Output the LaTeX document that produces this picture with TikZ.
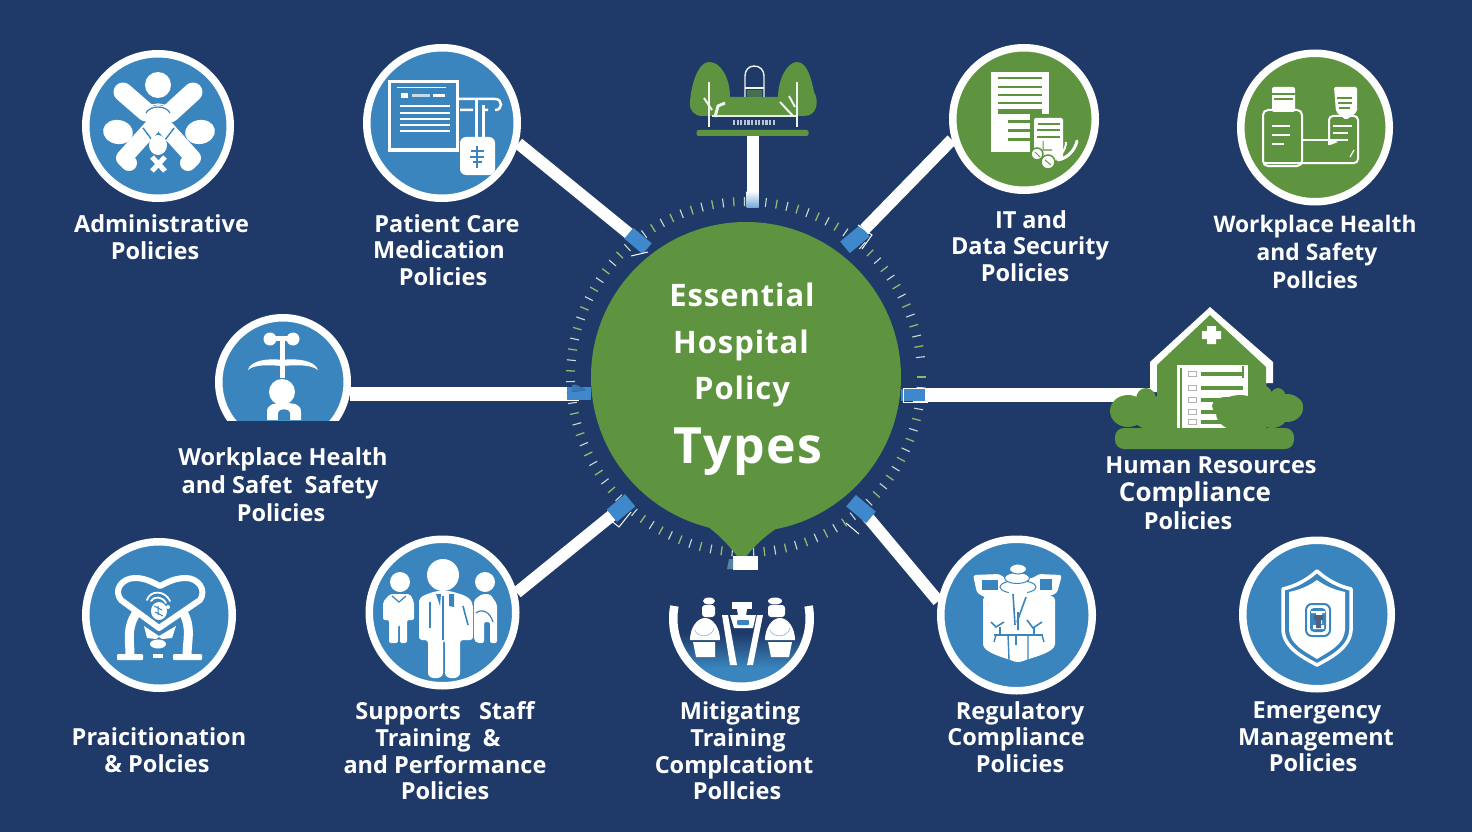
\documentclass[tikz,border=0pt]{standalone}
\usepackage{fontspec}
\setmainfont{Open Sans}
\newfontfamily\labf{Open Sans}
\newfontfamily\hubf{Open Sans}[LetterSpace=3]
\usetikzlibrary{backgrounds,shadings}
\definecolor{bgc}{HTML}{1F3A68}
\definecolor{bluec}{HTML}{3A85BD}
\definecolor{greenc}{HTML}{5E9440}
\definecolor{tabc}{HTML}{3F88CC}
\definecolor{tickg}{HTML}{8DBB6E}
\definecolor{tickw}{HTML}{C7DDD2}
\newcommand\shl[2]{#2\kern#1pt\relax}
\newcommand\shr[2]{\kern#1pt\relax#2}
\tikzset{
  disc/.style={circle,draw=white,line width=7.5pt,inner sep=0pt,minimum size=#1},
  bluedisc/.style={disc=#1,fill=bluec},
  greendisc/.style={disc=#1,fill=greenc},
  lab/.style={text=white,align=center,inner sep=0pt,font=\labf\bfseries\fontsize{23.5}{26.6}\selectfont},
  conn/.style={draw=white,line width=12pt},
  tabn/.style={rectangle,fill=tabc,inner sep=0pt},
  wl/.style={draw=white,line cap=round,line join=round},
  gl/.style={draw=greenc,line cap=butt},
  bl/.style={draw=bluec,line cap=round}
}
\begin{document}
\begin{tikzpicture}[x=1pt,y=-1pt]
\useasboundingbox (0,0) rectangle (1472,832);
\begin{scope}[on background layer]
\fill[bgc] (0,0) rectangle (1472,832);
\end{scope}

% tick ring
\foreach \a in {0,7,...,356}{\draw[tickg,line width=1.3pt] ({746+171*cos(\a)},{377+171*sin(\a)}) -- ({746+180*cos(\a)},{377+180*sin(\a)});}
\foreach \a in {3.5,10.5,...,356}{\draw[tickw,line width=1.1pt] ({746+171*cos(\a)},{377+171*sin(\a)}) -- ({746+180*cos(\a)},{377+180*sin(\a)});}

% hub
\fill[greenc] (698,520) .. controls (722,535) and (732,550) .. (742,562) .. controls (752,548) and (764,535) .. (790,520) -- cycle;
\node[circle,fill=greenc,minimum size=310pt,inner sep=0pt] (hub) at (746,377) {};
\node[text=white,align=center,inner sep=0pt,font=\hubf\bfseries\fontsize{31}{46.5}\selectfont] (hubtext) at (744,379)
 {\shl{4}{Essential}\\\shl{6}{Hospital}\\\shl{4}{Policy}\\[17pt]\shr{8}{\fontsize{50}{50}\selectfont Types}};

% discs
\node[bluedisc=144.5pt] (admin) at (158,126) {};
\node[bluedisc=150.5pt] (patient) at (442,123) {};
\node[greendisc=142.5pt] (itsec) at (1024,119) {};
\node[greendisc=148.5pt] (safety) at (1315,127.5) {};
\node[bluedisc=146.5pt] (pract) at (159,615) {};
\node[bluedisc=146.5pt] (staff) at (442.5,612.5) {};
\node[bluedisc=151.5pt] (regul) at (1016.5,615) {};
\node[bluedisc=148.5pt] (emerg) at (1317,614.5) {};
\begin{scope}
\clip (200,300) rectangle (370,420);
\node[bluedisc=128.5pt] (leftc) at (283,382) {};
\fill[white] (267,420) -- (267,412) .. controls (267,405) and (272,403) .. (284,403) .. controls (296,403) and (301,405) .. (301,412) -- (301,420) -- cycle;
\fill[bluec] (278,420) -- (278,413) .. controls (278,408) and (290,408) .. (290,413) -- (290,420) -- cycle;
\end{scope}

% tabs
\node[rectangle,inner sep=0pt,minimum width=12pt,minimum height=16pt,top color=white,bottom color=tabc!70] (tabT) at (752.5,199) {};
\node[tabn,minimum width=24pt,minimum height=14pt,rotate=-40] (tabUL) at (638,241) {};
\node[tabn,minimum width=26pt,minimum height=15pt,rotate=40] (tabUR) at (855,239) {};
\node[tabn,minimum width=24pt,minimum height=13pt] (tabL) at (579,393) {};
\node[tabn,minimum width=24pt,minimum height=12pt] (tabR) at (913,394.5) {};
\node[tabn,minimum width=24pt,minimum height=16pt,rotate=40] (tabLL) at (621,508) {};
\node[tabn,minimum width=26pt,minimum height=15pt,rotate=-40] (tabLR) at (861,509) {};
\node[rectangle,fill=white,minimum width=25pt,minimum height=14pt,inner sep=0pt] (tabB) at (745,563) {};
\fill[bluec!60!gray] (727,569) -- (729,559) -- (733,559) -- (733,569) -- cycle;
\draw[white,line width=1pt] (648,252) -- (631,256) (858,225) -- (872,235) -- (862,249) (604,515) -- (619,527) -- (631,512) (846,523) -- (859,534);
\draw[white,line width=1pt] (903,388) rectangle (927,402);
\draw[tabc!70!black,fill=tabc!80!bgc] (572,385) .. controls (576,384) and (580,386) .. (585,390) -- (572,392) -- cycle;

% top icon
\fill[greenc] (702,116) .. controls (694,116) and (689,110) .. (690,102) .. controls (691,85) and (698,62) .. (709,62) .. controls (721,62) and (730,78) .. (730,97) -- (778,97) .. controls (778,80) and (787,62) .. (797,62) .. controls (808,62) and (812,82) .. (814,92) .. controls (819,100) and (818,116) .. (804,116) -- cycle;
\draw[white!85!greenc,line width=1.1pt] (712,116) -- (797,116);
\draw[white!90!greenc,line width=1.4pt,fill=bgc] (745,97) -- (745,76) .. controls (745,70) and (749,66) .. (754,66) .. controls (760,66) and (764,70) .. (764,76) -- (764,97);
\draw[white!90!greenc,line width=1.4pt] (745,88) -- (764,88);
\fill[greenc!60!bgc] (747,90) rectangle (762,97);
\draw[white!90!greenc,line width=2pt] (709,82) -- (709,127) (797,82) -- (797,127);
\draw[white!90!greenc,line width=2pt] (704,98) -- (712,110) (789,96) -- (795,107) (780,102) -- (793,116);
\draw[white!90!greenc,line width=3pt] (725,103) -- (718,106) -- (715,117);
\foreach \xx in {733,736.6,...,776}{\fill[bgc!30!white] (\xx,120.5) rectangle +(2.2,4.5);}
\node[rectangle,fill=greenc,minimum width=112pt,minimum height=6pt,rounded corners=2pt,inner sep=0pt] (plat) at (752.5,133) {};

% house icon
\coordinate (houseL) at (1150,394.5);
\fill[white] (1150,392) -- (1150,362) -- (1210,307) -- (1273,362) -- (1273,383) -- (1266,383) -- (1266,392) -- cycle;
\fill[greenc] (1157,428) -- (1157,365) -- (1210,315) -- (1266,367) -- (1266,428) -- cycle;
\fill[white] (1207,326) rectangle (1216,344) (1202,331) rectangle (1221,339);
\fill[white] (1177,365) rectangle (1248,428);
\draw[greenc,line width=1.5pt] (1181,368) -- (1181,428) (1243,366) -- (1243,378);
\foreach \yy in {375,389,401,413,423}{\fill[greenc] (1201,\yy-3) rectangle (1243,\yy+1);\draw[gray!60,line width=.6pt] (1188,\yy-4) rectangle (1196,\yy+1);}
\fill[greenc] (1128,411) ellipse [x radius=18,y radius=16];
\fill[greenc] (1146,399) ellipse [x radius=10,y radius=11];
\fill[greenc] (1153,413) ellipse [x radius=22,y radius=17];
\fill[greenc] (1240,413) ellipse [x radius=24,y radius=18];
\fill[greenc] (1226,406) ellipse [x radius=14,y radius=9];
\fill[greenc] (1262,402) ellipse [x radius=12,y radius=17];
\fill[greenc] (1272,414) ellipse [x radius=16,y radius=14];
\fill[greenc] (1287,408) ellipse [x radius=16,y radius=14];
\fill[greenc] (1278,398) ellipse [x radius=8,y radius=10];
\fill[greenc] (1293,406) ellipse [x radius=10,y radius=9];
\fill[greenc,rounded corners=9pt] (1115,428) rectangle (1294,449);

% admin icon
\fill[white] (158,85) circle [radius=13];
\draw[wl,line width=19pt] (123,92) -- (146,112);
\draw[wl,line width=19pt] (193,92) -- (170,113);
\fill[white,rotate around={-10:(118,132)}] (118,132) ellipse [x radius=15,y radius=12];
\fill[white,rotate around={10:(200,132)}] (200,132) ellipse [x radius=15,y radius=12];
\draw[wl,line width=16pt] (152,127) -- (124,158) -- (129,163);
\draw[wl,line width=16pt] (165,127) -- (193,158) -- (188,163);
\draw[bluec,line width=1.4pt] (143,128) -- (152,140) (174,128) -- (165,140);
\fill[white] (158,118) circle [radius=13];
\draw[bluec,line width=1.2pt] (146,113) .. controls (150,105) and (166,105) .. (170,113);
\draw[white,line width=1.2pt] (142,116) .. controls (146,100) and (170,100) .. (174,116);
\fill[white] (158,145) ellipse [x radius=9,y radius=10];
\draw[white,line width=5pt] (152,157) -- (165,171) (165,157) -- (152,171);

% patient icon
\draw[white,line width=3pt] (389,82) rectangle (457,150);
\draw[white,line width=1pt] (397,88) -- (446,88);
\fill[white] (401,93) rectangle (408,98);
\fill[white!70!bluec] (412,94) rectangle (430,97);
\fill[white] (433,94) rectangle (445,97);
\foreach \yy in {106,113,119,125,131}{\draw[white,line width=2pt] (400,\yy) -- (450,\yy);}
\draw[white,line width=2.5pt] (458,99) -- (495,99) .. controls (503,99) and (503,110) .. (495,110) (460,110) -- (473,110) (482,110) -- (488,110);
\draw[white,line width=3pt] (476,100) -- (476,137) (483,105) -- (483,137);
\fill[white,rounded corners=6pt] (460,137) rectangle (495,175);
\draw[bluec,line width=1.8pt] (477,146) -- (477,168) (471,151) -- (484,151) (470,157) -- (484,157) (473,162) -- (482,162);

% IT icon
\fill[white] (991,72) rectangle (1049,152);
\foreach \yy in {78,87,95,103}{\draw[greenc,line width=2.5pt] (998,\yy) -- (1042,\yy);}
\draw[greenc,line width=5pt] (998,112) -- (1042,112);
\draw[greenc,line width=3pt] (1008,122) -- (1030,122) (1008,131) -- (1030,131) (1008,140) -- (1030,140);
\fill[greenc] (1030,114) rectangle (1068,166);
\fill[white,rounded corners=2pt] (1034,118) rectangle (1063,158);
\draw[greenc,line width=1.5pt] (1038,124) -- (1060,124) (1037,130) -- (1060,130) (1037,137) -- (1060,137);
\draw[white,line width=3pt,line cap=round] (1058,160) .. controls (1068,158) and (1075,150) .. (1077,141);
\draw[white,line width=2pt] (1066,142) .. controls (1066,150) and (1060,158) .. (1050,162);
\draw[greenc,line width=1.5pt,fill=white] (1037,154) circle [radius=6];
\draw[greenc,line width=1.5pt,fill=white] (1048,162) circle [radius=7];
\draw[greenc,line width=1pt] (1045,160) -- (1051,165) (1035,152) -- (1040,157) (1043,141) -- (1043,150) -- (1052,150);

% safety icon
\draw[white,line width=2pt,rounded corners=5pt] (1263,166) -- (1263,110) -- (1302,110) -- (1302,166) -- cycle;
\fill[white,rounded corners=2pt] (1272,87) rectangle (1295,112);
\draw[greenc,line width=2pt] (1272,94) -- (1295,94) (1274,99) -- (1293,99);
\draw[white,line width=2pt] (1272,126) -- (1290,126) (1272,135) -- (1290,135) (1272,144) -- (1284,144);
\draw[white,line width=2pt,rounded corners=4pt] (1329,145) -- (1329,116) -- (1358,116) -- (1358,163) -- (1263,163);
\fill[white,rounded corners=2pt] (1334,87) -- (1357,87) -- (1357,112) -- (1346,120) -- (1336,112) -- cycle;
\draw[greenc,line width=1.5pt] (1337,98) -- (1352,98) (1338,103) -- (1352,103) (1339,108) -- (1350,108);
\draw[white,line width=2pt] (1302,140) -- (1348,140) (1333,126) -- (1352,126) (1333,133) -- (1348,133);
\fill[white] (1328,138) -- (1330,145) -- (1338,142) -- cycle;
\draw[white,line width=1.2pt] (1350,157) -- (1354,150);

% left icon
\begin{scope}
\clip (200,300) rectangle (370,420);
\fill[white] (270,339) circle [radius=6.5] (293,339) circle [radius=6.5];
\draw[white,line width=5pt] (282,339) -- (282,378) (270,338) -- (293,338);
\fill[white] (248,370) .. controls (250,360) and (270,358) .. (282,360) .. controls (295,358) and (315,360) .. (318,370) .. controls (310,364) and (295,365) .. (282,366) .. controls (270,365) and (255,364) .. (248,370) -- cycle;
\fill[white] (282,392) ellipse [x radius=13,y radius=13];
\end{scope}

% practitioner icon
\draw[white,line width=9pt] (137,612) .. controls (126,628) and (130,640) .. (130,656);
\draw[white,line width=9pt] (183,612) .. controls (192,628) and (187,640) .. (187,656);
\fill[white,rounded corners=1pt] (117,654) rectangle (143,660) (173,654) rectangle (202,660);
\fill[white] (144,626) -- (159,636) -- (176,626) -- (172,638) -- (162,639) -- (159,637) -- (156,639) -- (147,638) -- cycle;
\draw[wl,line width=6pt,fill=bluec] (159,628) -- (121,600) .. controls (113,590) and (122,578) .. (135,578) .. controls (145,578) and (152,582) .. (160,586) .. controls (168,582) and (175,578) .. (186,578) .. controls (198,578) and (207,590) .. (200,600) -- cycle;
\fill[white] (158,644) ellipse [x radius=8,y radius=4.5];
\fill[white] (153,654) rectangle (163,658);
\fill[white] (159,611) ellipse [x radius=8,y radius=9];
\draw[bluec,line width=1pt] (154,606) -- (162,610) (158,606) -- (158,615) (155,612) -- (163,616);
\draw[white,line width=1.8pt,line cap=round] (147,600) .. controls (150,590) and (165,590) .. (170,601);
\draw[white,line width=1.8pt,line cap=round] (151,601) .. controls (154,596) and (162,596) .. (166,603);
\fill[white] (168,607) circle [radius=2];

% staff icon
\fill[white] (443,575) circle [radius=16];
\fill[white,rounded corners=3pt] (419,604) .. controls (419,596) and (430,593) .. (437,591) -- (450,591) .. controls (460,594) and (470,596) .. (473,606) -- (473,640) -- (460,640) -- (460,670) .. controls (460,680) and (445,680) .. (445,670) -- (445,640) -- (443,640) -- (443,670) .. controls (443,680) and (428,680) .. (428,670) -- (428,640) -- (419,640) -- cycle;
\draw[bluec,line width=1.6pt] (430,602) -- (430,628) (443,596) -- (443,640) (463,606) -- (468,625);
\fill[bluec] (436,594) -- (441,594) -- (440,606) -- cycle (449,594) -- (454,594) -- (454,607) -- (449,606) -- cycle;
\fill[white] (400,582) circle [radius=10];
\fill[white,rounded corners=2pt] (383,602) -- (390,594) -- (410,594) -- (414,602) -- (414,620) -- (407,620) -- (407,643) -- (400,643) -- (400,625) -- (398,625) -- (398,643) -- (389,643) -- (389,620) -- (383,620) -- cycle;
\draw[bluec,line width=1.2pt] (392,596) -- (399,602) -- (406,596);
\fill[white] (485,582) circle [radius=10];
\fill[white,rounded corners=2pt] (474,640) -- (474,600) -- (482,594) -- (490,594) -- (497,604) -- (497,643) -- (490,643) -- (490,622) -- (484,622) -- (484,643) -- (477,643) -- cycle;
\draw[bluec,line width=1.2pt] (476,613) .. controls (482,608) and (490,612) .. (493,622);

% mitigating icon
\begin{scope}
\clip (741.5,618.5) circle [radius=68];
\shade[top color=bgc,bottom color=bluec] (660,633) rectangle (820,668);
\fill[bluec] (660,668) rectangle (820,700);
\end{scope}
\draw[white,line width=8.5pt] (674.4,606) arc [start angle=190.55,end angle=-10.55,radius=68.25];
\fill[white] (709,601) ellipse [x radius=6,y radius=3.5];
\fill[white,rounded corners=3pt] (702,605) rectangle (715,617);
\fill[white] (690,640) .. controls (690,628) and (697,618) .. (705,618) .. controls (713,618) and (720,628) .. (720,640) -- cycle;
\draw[bluec!60!white,line width=.6pt] (695,630) .. controls (697,638) and (712,638) .. (714,628);
\fill[white] (693,642) -- (715,642) -- (715,657) -- (696,657) -- cycle;
\fill[white] (775,601) ellipse [x radius=7,y radius=3.5];
\fill[white,rounded corners=3pt] (768,605) rectangle (785,617);
\fill[white] (765,640) .. controls (765,628) and (772,618) .. (780,618) .. controls (788,618) and (795,628) .. (795,640) -- cycle;
\draw[bluec!60!white,line width=.6pt] (770,630) .. controls (772,638) and (788,638) .. (790,628);
\fill[white] (768,642) -- (792,642) -- (789,657) -- (771,657) -- cycle;
\fill[white] (722,615) -- (728,615) -- (737,665) -- (730,665) -- cycle;
\fill[white] (757,615) -- (763,615) -- (753,665) -- (747,665) -- cycle;
\fill[white] (732,602) rectangle (752,609);
\fill[white] (737,609) -- (747,609) -- (746,616) -- (738,616) -- cycle;
\fill[white] (730,615) -- (756,615) -- (753,628) -- (734,628) -- cycle;
\fill[bluec,rounded corners=1pt] (737,620) rectangle (749,625);

% regulatory icon
\fill[white,rounded corners=4pt] (983,596) -- (1055,596) -- (1055,640) .. controls (1055,653) and (1030,658) .. (1018,663) .. controls (1006,658) and (983,653) .. (983,640) -- cycle;
\fill[white,rounded corners=3pt] (973,575) -- (1000,574) -- (1004,578) -- (1034,578) -- (1038,574) -- (1062,575) -- (1057,593) -- (1040,600) -- (990,600) -- (977,593) -- cycle;
\fill[bluec] (982,580) rectangle (998,590);
\fill[bluec] (1040,579) rectangle (1052,590);
\draw[bluec,line width=1pt,fill=white] (1018,587) ellipse [x radius=18,y radius=6.5];
\draw[bluec,line width=1pt,fill=white] (1017,578) ellipse [x radius=12.5,y radius=5.5];
\draw[bluec,line width=1pt,fill=white] (1018,569) ellipse [x radius=8.5,y radius=5];
\fill[white] (1008,590) -- (1028,590) -- (1022,606) -- (1014,606) -- cycle;
\draw[bluec,line width=1.6pt] (1013,594) -- (1015,625) (1026,597) -- (1017,622) (1018,612) -- (1018,630);
\draw[bluec,line width=2.2pt] (994,635) -- (1043,635);
\draw[bluec,line width=1.6pt] (991,622) -- (996,627) -- (1004,622) (1000,627) -- (1000,635) (1027,620) -- (1033,628) -- (1042,622) (1034,628) -- (1034,635);
\draw[bluec,line width=1.4pt] (1008,635) -- (1009,660) (1028,635) -- (1028,660) (996,635) -- (994,642) (1042,635) -- (1044,642);
\draw[bluec,line width=1.4pt] (1016,634) -- (1016,645);

% emergency icon
\draw[white,line width=3.5pt,line join=round] (1317,571) .. controls (1327,580) and (1338,586) .. (1351,589) -- (1351,630) .. controls (1350,648) and (1330,658) .. (1317,665) .. controls (1304,658) and (1284,648) .. (1283,630) -- (1283,589) .. controls (1296,586) and (1307,580) .. (1317,571) -- cycle;
\fill[white] (1317,580) .. controls (1325,586) and (1335,590) .. (1345,592) -- (1345,630) .. controls (1344,645) and (1328,652) .. (1317,659) .. controls (1306,652) and (1290,645) .. (1289,630) -- (1289,592) .. controls (1299,590) and (1309,586) .. (1317,580) -- cycle;
\draw[bluec,line width=2pt,fill=white,rounded corners=6pt] (1306,604) rectangle (1330,636);
\fill[bluec,rounded corners=4pt] (1310,608) rectangle (1326,632);
\fill[white] (1311,611) rectangle (1325,613) (1316,613) rectangle (1322,624) (1313,625) rectangle (1324,629);
\fill[bgc!80] (1314,615) rectangle (1323,620) (1316,620) rectangle (1321,628);

% labels
\node[lab] (tAdmin) at (158,237) {\shr{7}{Administrative}\\\shl{6}{Policies}};
\node[lab] (tPatient) at (445,250) {\shr{4}{Patient Care}\\\shl{12}{Medication}\\\shl{4}{Policies}};
\node[lab] (tIT) at (1030,246) {\shr{2}{IT and}\\Data Security\\\shl{10}{Policies}};
\node[lab,font=\labf\bfseries\fontsize{22.8}{26.6}\selectfont] (tSafety) at (1315,252) {Workplace Health\\[1.5pt]\shr{4}{and Safety}\\[1.5pt]Pollcies};
\node[lab] (tLeft) at (281,485) {\shr{4}{Workplace Health}\\[1.5pt]\shl{2}{and Safet\ \ Safety}\\[1.5pt]Policies};
\node[lab] (tHR) at (1200,493) {\shr{22}{Human Resources}\\[1.5pt]\shl{10}{\fontsize{26}{27}\selectfont Compliance}\\[1.5pt]\shl{24}{Policies}};
\node[lab] (tPract) at (159,750) {Praicitionation\\\shl{4}{\&\ Polcies}};
\node[lab] (tStaff) at (445,751) {Supports\ \ \ Staff\\\shl{14}{Training\ \ \&}\\and Performance\\Policies};
\node[lab] (tMitig) at (737,751) {\shr{6}{Mitigating}\\\shr{2}{Training}\\\shl{6}{Complcationt}\\Pollcies};
\node[lab] (tRegul) at (1018,737) {\shr{4}{Regulatory}\\\shl{4}{Compliance}\\\shr{4}{Policies}};
\node[lab] (tEmerg) at (1316,737) {\shr{2}{Emergency}\\Management\\\shl{6}{Policies}};

% connectors
\begin{scope}[on background layer]
\draw[conn,line width=12pt] (plat.south) -- (tabT.center);
\draw[conn] (patient.-15) -- (tabUL.center);
\draw[conn] (itsec.196) -- (tabUR.center);
\draw[conn,line width=14pt] (leftc.-10) -- (leftc.-10 -| tabL.center);
\draw[conn,line width=14pt] (tabR.center) -- (houseL);
\draw[conn] (staff.15) -- (tabLL.center);
\draw[conn] (regul.170) -- (tabLR.center);
\end{scope}
\end{tikzpicture}
\end{document}
